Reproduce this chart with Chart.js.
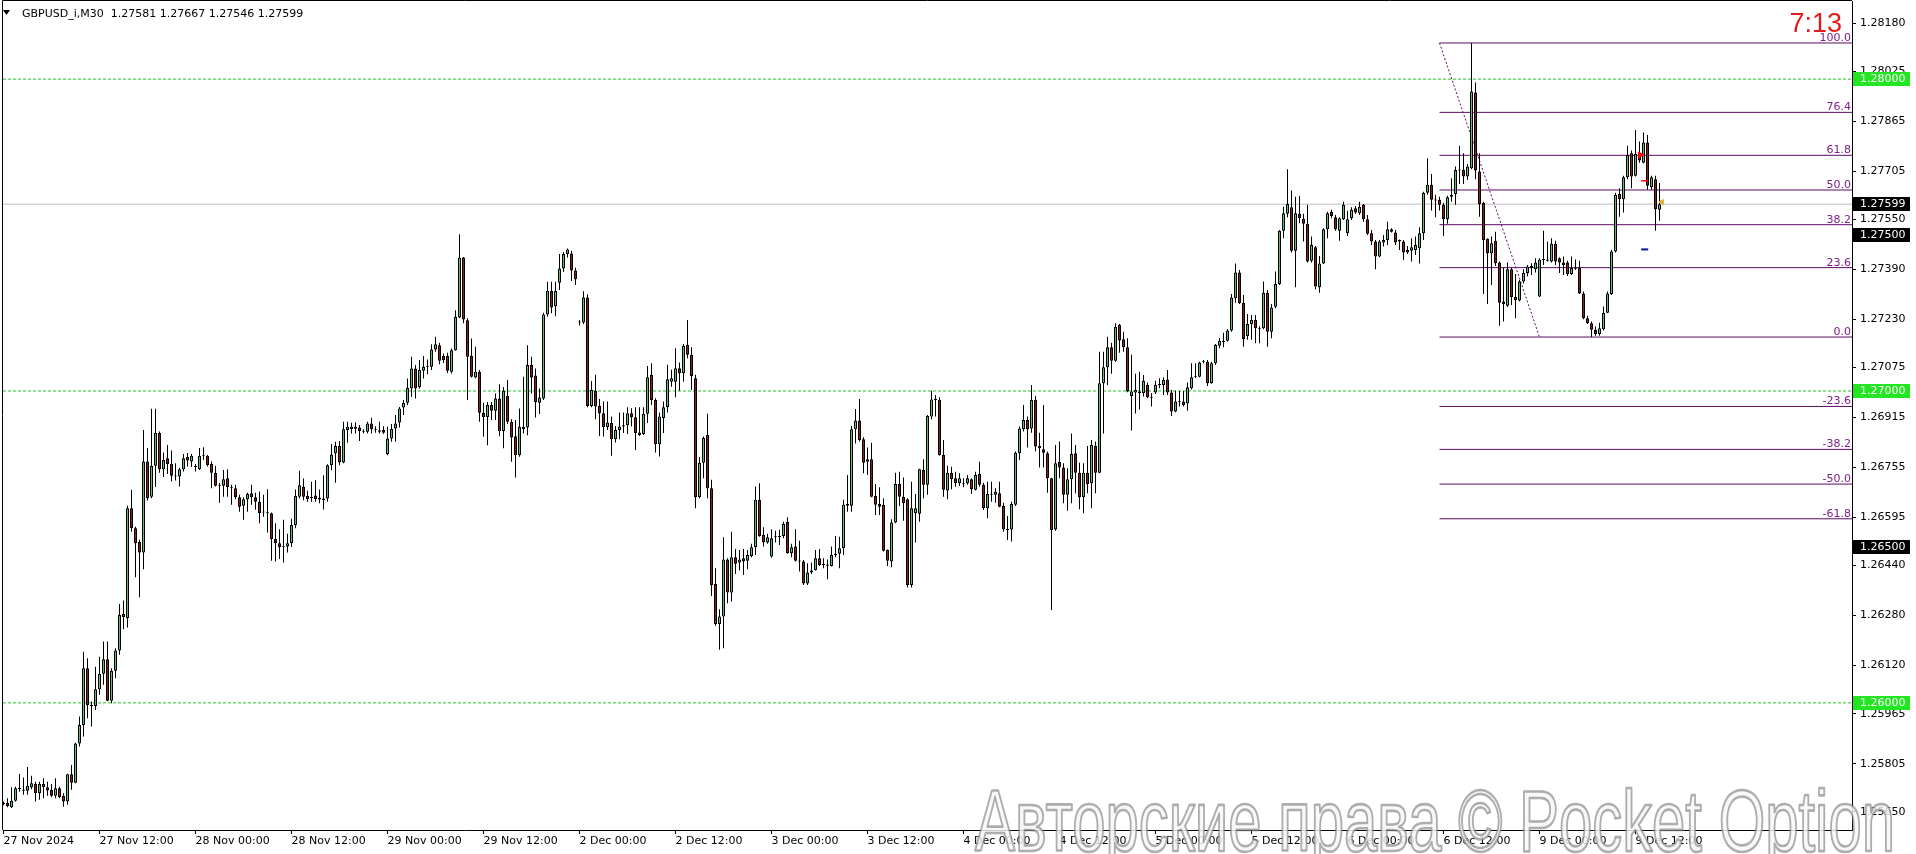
<!DOCTYPE html>
<html><head><meta charset="utf-8">
<style>html,body{margin:0;padding:0;background:#fff;overflow:hidden}canvas{display:block}</style>
<script src="https://cdn.jsdelivr.net/npm/chart.js@4.4.1/dist/chart.umd.min.js"></script>
</head><body>
<canvas id="c" width="1916" height="854"></canvas>
<script>
// ---------- DATA (GBPUSD_i, M30) : [open, high, low, close] ----------
const symbolName = 'GBPUSD_i,M30';
const nov27 = [
[1.25676,1.25684,1.25672,1.25679],[1.25680,1.25694,1.25665,1.25669],[1.25665,1.25729,1.25663,1.25686],[1.25686,1.25731,1.25684,1.25726],
[1.25726,1.25772,1.25715,1.25724],[1.25722,1.25761,1.25705,1.25718],[1.25718,1.25794,1.25705,1.25734],[1.25729,1.25766,1.25723,1.25742],
[1.25740,1.25747,1.25684,1.25710],[1.25710,1.25747,1.25689,1.25740],[1.25740,1.25758,1.25694,1.25729],[1.25729,1.25747,1.25702,1.25719],
[1.25721,1.25740,1.25697,1.25702],[1.25702,1.25758,1.25694,1.25726],[1.25726,1.25731,1.25694,1.25697],[1.25702,1.25710,1.25667,1.25684],
[1.25684,1.25773,1.25673,1.25771],[1.25771,1.25801,1.25721,1.25744],[1.25744,1.25872,1.25742,1.25870],[1.25870,1.25956,1.25860,1.25929],
[1.25929,1.26164,1.25892,1.26111],[1.26111,1.26143,1.25951,1.25993],[1.25993,1.26004,1.25924,1.25990],[1.25990,1.26116,1.25977,1.26044],
[1.26044,1.26148,1.26026,1.26093],[1.26093,1.26197,1.26058,1.26140],[1.26140,1.26197,1.26005,1.26007],[1.26007,1.26111,1.25999,1.26103],
[1.26103,1.26175,1.26079,1.26168],[1.26168,1.26317,1.26154,1.26282],[1.26285,1.26328,1.26236,1.26275],[1.26272,1.26632,1.26242,1.26624],
[1.26624,1.26683,1.26549,1.26560],[1.26560,1.26565,1.26403,1.26512],[1.26516,1.26523,1.26339,1.26482],[1.26482,1.26875,1.26428,1.26774],
[1.26774,1.26817,1.26649,1.26656],[1.26661,1.26943,1.26656,1.26760],[1.26760,1.26943,1.26692,1.26865],[1.26865,1.26870,1.26738,1.26749],
[1.26749,1.26803,1.26724,1.26779],[1.26784,1.26827,1.26734,1.26766],[1.26766,1.26809,1.26710,1.26728],[1.26728,1.26768,1.26713,1.26726],
[1.26726,1.26754,1.26694,1.26749],[1.26749,1.26798,1.26742,1.26784],[1.26788,1.26801,1.26758,1.26777],[1.26774,1.26798,1.26756,1.26792]
];
const nov28 = [
[1.26758,1.26766,1.26742,1.26756],[1.26749,1.26817,1.26747,1.26792],[1.26792,1.26820,1.26779,1.26794],[1.26792,1.26795,1.26758,1.26763],
[1.26766,1.26774,1.26688,1.26738],[1.26738,1.26760,1.26694,1.26696],[1.26699,1.26706,1.26642,1.26696],[1.26696,1.26747,1.26661,1.26717],
[1.26720,1.26749,1.26661,1.26692],[1.26692,1.26699,1.26635,1.26690],[1.26688,1.26699,1.26653,1.26659],[1.26659,1.26667,1.26613,1.26629],
[1.26632,1.26659,1.26587,1.26653],[1.26653,1.26674,1.26613,1.26670],[1.26672,1.26699,1.26635,1.26659],[1.26659,1.26674,1.26619,1.26645],
[1.26645,1.26678,1.26576,1.26608],[1.26610,1.26667,1.26597,1.26611],[1.26610,1.26685,1.26546,1.26608],[1.26608,1.26610,1.26456,1.26525],
[1.26525,1.26576,1.26453,1.26512],[1.26512,1.26557,1.26461,1.26499],[1.26499,1.26587,1.26450,1.26500],[1.26501,1.26542,1.26482,1.26512],
[1.26512,1.26590,1.26500,1.26570],[1.26570,1.26684,1.26560,1.26663],[1.26661,1.26744,1.26655,1.26698],[1.26693,1.26719,1.26650,1.26661],
[1.26663,1.26680,1.26645,1.26654],[1.26656,1.26709,1.26645,1.26660],[1.26665,1.26714,1.26645,1.26654],[1.26652,1.26684,1.26640,1.26658],
[1.26655,1.26730,1.26620,1.26650],[1.26655,1.26765,1.26645,1.26762],[1.26762,1.26830,1.26746,1.26796],[1.26800,1.26837,1.26706,1.26824],
[1.26824,1.26840,1.26762,1.26771],[1.26771,1.26901,1.26768,1.26877],[1.26875,1.26901,1.26834,1.26885],[1.26878,1.26898,1.26864,1.26885],
[1.26879,1.26900,1.26864,1.26885],[1.26883,1.26891,1.26840,1.26872],[1.26872,1.26877,1.26864,1.26869],[1.26869,1.26901,1.26864,1.26896],
[1.26896,1.26914,1.26864,1.26877],[1.26874,1.26887,1.26866,1.26877],[1.26869,1.26901,1.26864,1.26874],[1.26875,1.26887,1.26862,1.26866]
];
const nov29 = [
[1.26798,1.26885,1.26794,1.26848],[1.26848,1.26894,1.26837,1.26878],[1.26880,1.26923,1.26837,1.26896],[1.26899,1.26949,1.26883,1.26944],
[1.26947,1.26971,1.26923,1.26962],[1.26962,1.27040,1.26955,1.27010],[1.27008,1.27110,1.26981,1.27072],[1.27072,1.27083,1.26976,1.27008],
[1.27013,1.27099,1.27008,1.27067],[1.27065,1.27112,1.27040,1.27078],[1.27078,1.27101,1.27054,1.27080],[1.27078,1.27150,1.27067,1.27133],
[1.27133,1.27174,1.27126,1.27150],[1.27147,1.27155,1.27086,1.27097],[1.27112,1.27120,1.27090,1.27099],[1.27112,1.27123,1.27058,1.27065],
[1.27062,1.27136,1.27056,1.27131],[1.27131,1.27259,1.27129,1.27238],[1.27236,1.27503,1.27233,1.27428],[1.27428,1.27430,1.27217,1.27229],
[1.27227,1.27233,1.26971,1.27110],[1.27112,1.27168,1.27043,1.27046],[1.27043,1.27142,1.27040,1.27062],[1.27062,1.27067,1.26901,1.26930],
[1.26930,1.26962,1.26853,1.26917],[1.26917,1.26965,1.26826,1.26955],[1.26955,1.26965,1.26907,1.26937],[1.26937,1.26992,1.26907,1.26976],
[1.26976,1.27022,1.26855,1.26872],[1.26872,1.27013,1.26816,1.27001],[1.26984,1.27035,1.26894,1.26901],[1.26901,1.26909,1.26773,1.26851],
[1.26855,1.26907,1.26723,1.26794],[1.26794,1.26944,1.26789,1.26885],[1.26877,1.27046,1.26864,1.26885],[1.26883,1.27147,1.26858,1.27083],
[1.27083,1.27110,1.26992,1.27043],[1.27050,1.27072,1.26915,1.26965],[1.26962,1.27008,1.26926,1.26979],[1.26976,1.27251,1.26971,1.27245],
[1.27245,1.27350,1.27238,1.27321],[1.27321,1.27350,1.27249,1.27268],[1.27272,1.27350,1.27240,1.27321],[1.27347,1.27439,1.27324,1.27393],
[1.27393,1.27446,1.27382,1.27439],[1.27439,1.27457,1.27428,1.27454],[1.27441,1.27450,1.27353,1.27386],[1.27386,1.27395,1.27340,1.27358]
];
const dec02 = [
[1.27223,1.27228,1.27210,1.27220],[1.27220,1.27320,1.27215,1.27300],[1.27300,1.27310,1.26948,1.26952],[1.26952,1.27032,1.26948,1.27003],
[1.27001,1.27052,1.26909,1.26950],[1.26952,1.26974,1.26856,1.26929],[1.26929,1.26966,1.26854,1.26884],[1.26884,1.26966,1.26875,1.26899],
[1.26897,1.26918,1.26792,1.26845],[1.26845,1.26888,1.26835,1.26875],[1.26875,1.26931,1.26845,1.26886],[1.26886,1.26931,1.26865,1.26890],
[1.26890,1.26948,1.26862,1.26929],[1.26929,1.26945,1.26886,1.26916],[1.26916,1.26948,1.26811,1.26865],[1.26867,1.26948,1.26856,1.26859],
[1.26862,1.26948,1.26859,1.26927],[1.26927,1.27080,1.26897,1.27044],[1.27052,1.27089,1.26955,1.26971],[1.26971,1.26977,1.26803,1.26829],
[1.26829,1.26931,1.26790,1.26918],[1.26913,1.26966,1.26865,1.26948],[1.26948,1.27084,1.26931,1.27038],[1.27030,1.27068,1.27014,1.27041],
[1.27030,1.27137,1.26980,1.27073],[1.27073,1.27091,1.27001,1.27057],[1.27057,1.27151,1.27030,1.27145],[1.27148,1.27228,1.27105,1.27116],
[1.27116,1.27140,1.27003,1.27048],[1.27041,1.27052,1.26624,1.26659],[1.26659,1.26788,1.26656,1.26770],[1.26770,1.26854,1.26720,1.26849],
[1.26859,1.26927,1.26656,1.26688],[1.26688,1.26715,1.26343,1.26378],[1.26381,1.26432,1.26247,1.26253],[1.26253,1.26300,1.26170,1.26277],
[1.26277,1.26531,1.26175,1.26460],[1.26460,1.26464,1.26319,1.26354],[1.26354,1.26549,1.26325,1.26467],[1.26467,1.26493,1.26413,1.26446],
[1.26450,1.26490,1.26424,1.26460],[1.26464,1.26493,1.26410,1.26453],[1.26456,1.26490,1.26428,1.26474],[1.26471,1.26510,1.26467,1.26499],
[1.26499,1.26694,1.26474,1.26651],[1.26651,1.26704,1.26533,1.26535],[1.26539,1.26563,1.26501,1.26514],[1.26514,1.26542,1.26510,1.26531]
];
const dec03 = [
[1.26469,1.26557,1.26465,1.26528],[1.26531,1.26552,1.26514,1.26533],[1.26531,1.26555,1.26506,1.26535],[1.26535,1.26581,1.26528,1.26574],
[1.26581,1.26595,1.26478,1.26480],[1.26480,1.26510,1.26467,1.26499],[1.26501,1.26557,1.26453,1.26456],[1.26456,1.26520,1.26421,1.26453],
[1.26453,1.26458,1.26378,1.26383],[1.26383,1.26448,1.26378,1.26418],[1.26418,1.26450,1.26413,1.26424],[1.26426,1.26490,1.26424,1.26464],
[1.26464,1.26493,1.26439,1.26442],[1.26442,1.26464,1.26432,1.26446],[1.26440,1.26460,1.26396,1.26444],[1.26439,1.26501,1.26437,1.26474],
[1.26473,1.26535,1.26467,1.26478],[1.26478,1.26533,1.26432,1.26496],[1.26496,1.26651,1.26474,1.26635],[1.26638,1.26731,1.26613,1.26632],
[1.26632,1.26888,1.26613,1.26877],[1.26877,1.26942,1.26832,1.26905],[1.26905,1.26974,1.26838,1.26843],[1.26845,1.26852,1.26736,1.26770],
[1.26773,1.26819,1.26731,1.26781],[1.26781,1.26834,1.26659,1.26661],[1.26663,1.26702,1.26602,1.26635],[1.26638,1.26691,1.26602,1.26629],
[1.26635,1.26656,1.26485,1.26488],[1.26490,1.26492,1.26439,1.26456],[1.26453,1.26589,1.26435,1.26578],[1.26578,1.26738,1.26576,1.26702],
[1.26702,1.26741,1.26631,1.26661],[1.26661,1.26723,1.26584,1.26640],[1.26653,1.26656,1.26370,1.26378],[1.26378,1.26709,1.26370,1.26624],
[1.26608,1.26670,1.26514,1.26624],[1.26606,1.26751,1.26581,1.26749],[1.26747,1.26781,1.26656,1.26699],[1.26699,1.26923,1.26667,1.26920],
[1.26918,1.27001,1.26909,1.26973],[1.26971,1.26987,1.26918,1.26973],[1.26971,1.26980,1.26792,1.26795],[1.26795,1.26843,1.26661,1.26683],
[1.26681,1.26760,1.26653,1.26738],[1.26738,1.26757,1.26685,1.26717],[1.26720,1.26741,1.26693,1.26704],[1.26704,1.26736,1.26695,1.26720]
];
const dec04 = [
[1.26704,1.26720,1.26691,1.26701],[1.26704,1.26731,1.26699,1.26720],[1.26717,1.26720,1.26670,1.26685],[1.26683,1.26741,1.26681,1.26731],
[1.26734,1.26773,1.26693,1.26699],[1.26699,1.26706,1.26618,1.26624],[1.26624,1.26709,1.26592,1.26670],[1.26670,1.26709,1.26645,1.26667],
[1.26667,1.26688,1.26642,1.26677],[1.26672,1.26709,1.26627,1.26629],[1.26631,1.26642,1.26549,1.26556],[1.26556,1.26599,1.26522,1.26554],
[1.26556,1.26645,1.26517,1.26638],[1.26635,1.26806,1.26631,1.26802],[1.26800,1.26886,1.26779,1.26880],[1.26877,1.26955,1.26870,1.26907],
[1.26907,1.26918,1.26819,1.26877],[1.26880,1.27019,1.26866,1.26971],[1.26971,1.26984,1.26806,1.26822],[1.26824,1.26866,1.26755,1.26816],
[1.26813,1.26955,1.26755,1.26802],[1.26800,1.26806,1.26674,1.26720],[1.26720,1.26722,1.26298,1.26554],[1.26556,1.26827,1.26552,1.26768],
[1.26773,1.26838,1.26720,1.26755],[1.26755,1.26768,1.26640,1.26667],[1.26667,1.26752,1.26616,1.26717],[1.26717,1.26864,1.26640,1.26798],
[1.26800,1.26827,1.26672,1.26738],[1.26738,1.26770,1.26621,1.26659],[1.26659,1.26768,1.26608,1.26738],[1.26738,1.26824,1.26672,1.26702],
[1.26704,1.26843,1.26624,1.26827],[1.26824,1.26838,1.26672,1.26738],[1.26738,1.27126,1.26736,1.27025],[1.27025,1.27126,1.26864,1.27076],
[1.27076,1.27174,1.27019,1.27140],[1.27140,1.27155,1.27055,1.27097],[1.27097,1.27217,1.27094,1.27206],[1.27212,1.27215,1.27123,1.27162],
[1.27166,1.27190,1.27126,1.27140],[1.27140,1.27169,1.26996,1.26998],[1.26984,1.27116,1.26873,1.26998],[1.26995,1.27055,1.26928,1.27003],
[1.26993,1.27062,1.26941,1.26998],[1.26993,1.27051,1.26982,1.27033],[1.27019,1.27027,1.26977,1.26980],[1.26980,1.26993,1.26950,1.26978]
];
const dec05 = [
[1.26995,1.27033,1.26990,1.27019],[1.27019,1.27041,1.27009,1.27021],[1.27019,1.27044,1.26987,1.27035],[1.27037,1.27067,1.26987,1.26995],
[1.26995,1.27003,1.26920,1.26934],[1.26934,1.27001,1.26932,1.26966],[1.26966,1.27000,1.26950,1.26964],[1.26966,1.27000,1.26950,1.26955],
[1.26960,1.27027,1.26937,1.27012],[1.27009,1.27089,1.27005,1.27044],[1.27044,1.27089,1.27042,1.27046],[1.27046,1.27094,1.27044,1.27091],
[1.27094,1.27099,1.27089,1.27092],[1.27094,1.27099,1.27016,1.27025],[1.27025,1.27094,1.27023,1.27089],[1.27089,1.27151,1.27083,1.27148],
[1.27145,1.27169,1.27137,1.27161],[1.27157,1.27187,1.27140,1.27159],[1.27161,1.27198,1.27158,1.27194],[1.27194,1.27311,1.27190,1.27300],
[1.27297,1.27409,1.27283,1.27380],[1.27380,1.27388,1.27279,1.27281],[1.27283,1.27308,1.27142,1.27166],[1.27176,1.27247,1.27164,1.27215],
[1.27215,1.27244,1.27164,1.27228],[1.27228,1.27244,1.27153,1.27201],[1.27201,1.27208,1.27153,1.27198],[1.27201,1.27351,1.27198,1.27315],
[1.27315,1.27324,1.27142,1.27190],[1.27190,1.27279,1.27169,1.27268],[1.27270,1.27383,1.27265,1.27343],[1.27343,1.27516,1.27340,1.27514],
[1.27514,1.27591,1.27490,1.27570],[1.27568,1.27711,1.27557,1.27600],[1.27589,1.27643,1.27444,1.27450],[1.27450,1.27623,1.27333,1.27570],
[1.27568,1.27625,1.27538,1.27554],[1.27552,1.27568,1.27479,1.27536],[1.27536,1.27597,1.27412,1.27415],[1.27418,1.27495,1.27412,1.27468],
[1.27461,1.27465,1.27326,1.27335],[1.27333,1.27433,1.27315,1.27409],[1.27409,1.27522,1.27407,1.27519],[1.27519,1.27575,1.27490,1.27570],
[1.27575,1.27581,1.27554,1.27561],[1.27557,1.27564,1.27514,1.27519],[1.27514,1.27557,1.27482,1.27554],[1.27551,1.27607,1.27548,1.27597]
];
const dec06 = [
[1.27506,1.27578,1.27497,1.27551],[1.27554,1.27589,1.27548,1.27581],[1.27586,1.27593,1.27568,1.27572],[1.27570,1.27607,1.27564,1.27591],
[1.27597,1.27600,1.27543,1.27551],[1.27551,1.27564,1.27500,1.27504],[1.27506,1.27516,1.27468,1.27479],[1.27479,1.27484,1.27390,1.27431],
[1.27431,1.27484,1.27429,1.27479],[1.27476,1.27500,1.27463,1.27484],[1.27484,1.27543,1.27468,1.27519],[1.27519,1.27522,1.27508,1.27511],
[1.27508,1.27516,1.27468,1.27476],[1.27484,1.27486,1.27452,1.27479],[1.27479,1.27484,1.27420,1.27444],[1.27452,1.27465,1.27439,1.27444],
[1.27450,1.27490,1.27415,1.27461],[1.27452,1.27495,1.27436,1.27468],[1.27458,1.27525,1.27409,1.27506],[1.27506,1.27639,1.27484,1.27636],
[1.27636,1.27746,1.27629,1.27661],[1.27661,1.27696,1.27579,1.27613],[1.27613,1.27629,1.27557,1.27611],[1.27613,1.27623,1.27579,1.27597],
[1.27597,1.27604,1.27497,1.27551],[1.27551,1.27626,1.27536,1.27621],[1.27623,1.27682,1.27607,1.27629],[1.27632,1.27720,1.27597,1.27709],
[1.27709,1.27786,1.27664,1.27707],[1.27709,1.27762,1.27664,1.27688],[1.27688,1.27728,1.27677,1.27720],[1.27714,1.28116,1.27711,1.27960],
[1.27957,1.27989,1.27679,1.27707],[1.27704,1.27762,1.27559,1.27600],[1.27604,1.27607,1.27311,1.27484],[1.27487,1.27490,1.27279,1.27442],
[1.27442,1.27495,1.27340,1.27474],[1.27482,1.27511,1.27401,1.27410],[1.27412,1.27415,1.27209,1.27283],[1.27287,1.27394,1.27223,1.27279],
[1.27273,1.27412,1.27269,1.27390],[1.27390,1.27394,1.27276,1.27301],[1.27301,1.27375,1.27233,1.27292],[1.27290,1.27356,1.27287,1.27351],
[1.27351,1.27390,1.27345,1.27378],[1.27378,1.27404,1.27367,1.27399],[1.27394,1.27410,1.27372,1.27401],[1.27390,1.27426,1.27380,1.27412]
];
const dec09 = [
[1.27303,1.27426,1.27301,1.27422],[1.27422,1.27514,1.27404,1.27420],[1.27418,1.27479,1.27415,1.27422],[1.27415,1.27490,1.27412,1.27472],
[1.27472,1.27482,1.27404,1.27415],[1.27426,1.27429,1.27378,1.27412],[1.27412,1.27431,1.27372,1.27404],[1.27412,1.27418,1.27369,1.27375],
[1.27375,1.27431,1.27372,1.27394],[1.27394,1.27422,1.27388,1.27392],[1.27394,1.27418,1.27311,1.27313],[1.27313,1.27319,1.27230,1.27233],
[1.27233,1.27241,1.27215,1.27217],[1.27217,1.27223,1.27173,1.27196],[1.27196,1.27207,1.27177,1.27183],[1.27183,1.27219,1.27177,1.27201],
[1.27198,1.27271,1.27194,1.27251],[1.27251,1.27319,1.27249,1.27313],[1.27311,1.27452,1.27308,1.27447],[1.27447,1.27636,1.27444,1.27629],
[1.27632,1.27650,1.27559,1.27615],[1.27615,1.27690,1.27572,1.27685],[1.27685,1.27786,1.27679,1.27757],[1.27762,1.27771,1.27650,1.27688],
[1.27690,1.27837,1.27688,1.27760],[1.27762,1.27800,1.27732,1.27739],[1.27732,1.27829,1.27730,1.27797],[1.27797,1.27821,1.27645,1.27658],
[1.27653,1.27690,1.27645,1.27685],[1.27679,1.27690,1.27514,1.27583],[1.27581,1.27667,1.27546,1.27599]
];
const timeLabels = ['27 Nov 2024','27 Nov 12:00','28 Nov 00:00','28 Nov 12:00','29 Nov 00:00','29 Nov 12:00',
  '2 Dec 00:00','2 Dec 12:00','3 Dec 00:00','3 Dec 12:00','4 Dec 00:00','4 Dec 12:00','5 Dec 00:00','5 Dec 12:00',
  '6 Dec 00:00','6 Dec 12:00','9 Dec 00:00','9 Dec 12:00'];
const barsPerLabel = 24;
const yTickValues = [1.28180,1.28025,1.27865,1.27705,1.27550,1.27390,1.27230,1.27075,1.26915,1.26755,1.26595,1.26440,1.26280,1.26120,1.25965,1.25805,1.25650];
const roundLevels = [1.28000, 1.27000, 1.26000];
const blackLevels = [1.27500, 1.26500];
const fibLevels = [100.0, 76.4, 61.8, 50.0, 38.2, 23.6, 0.0, -23.6, -38.2, -50.0, -61.8];
const fibHigh = 1.28116, fibLow = 1.27173;
const fibStartBar = 359, fibEndBar = 384;
const countdownText = '7:13';
const watermarkText = 'Авторские права © Pocket Option';

// ---------- BUILD ----------
const candles = [].concat(nov27, nov28, nov29, dec02, dec03, dec04, dec05, dec06, dec09);
const N = candles.length;
const last = candles[N - 1];
const lastPrice = last[3];
const X_MIN = -0.125, X_MAX = 462.125;
const Y_MIN = 1.2559228, Y_MAX = 1.2825055;
const BULL = '#55c07f', BEAR = '#8b1c1c', FIB = '#5c0a64', GREEN = '#22c422';
const fibPrice = p => fibLow + (fibHigh - fibLow) * p / 100;

const hline = (y, color, dash, x0) => ({
  type: 'line', data: [{x: x0 === undefined ? X_MIN : x0, y}, {x: X_MAX, y}],
  borderColor: color, borderWidth: 1, borderDash: dash || [], pointRadius: 0, order: 5, fill: false
});

Chart.defaults.font.family = '"DejaVu Sans"';
Chart.defaults.font.size = 11;
Chart.defaults.color = '#000';

const datasets = [
  {
    type: 'bar', label: 'bodies', order: 0, grouped: false,
    data: candles.map((c, i) => ({x: i, y: [c[0], c[3]]})),
    backgroundColor: candles.map(c => c[3] >= c[0] ? BULL : BEAR),
    borderColor: '#000', borderWidth: 1, borderSkipped: false,
    barThickness: 3, minBarLength: 1, inflateAmount: 0
  },
  {
    type: 'bar', label: 'wicks', order: 1, grouped: false,
    data: candles.map((c, i) => ({x: i, y: [c[2], c[1]]})),
    backgroundColor: '#000', borderWidth: 0,
    barThickness: 1, minBarLength: 1, inflateAmount: 0
  },
  hline(lastPrice, '#bdbdbd'),
  ...roundLevels.map(v => hline(v, GREEN, [3, 2])),
  ...fibLevels.map(p => hline(fibPrice(p), FIB, [], fibStartBar)),
  {
    type: 'line', data: [{x: fibStartBar, y: fibHigh}, {x: fibEndBar, y: fibLow}],
    borderColor: '#5c0a64', borderWidth: 1, borderDash: [2, 2], pointRadius: 0, order: 4
  },
  {
    type: 'scatter', order: -1,
    data: [{x: 409.2, y: 1.27757}, {x: 410.3, y: 1.27674}, {x: 410.3, y: 1.27454}, {x: 414.6, y: 1.27606}],
    pointStyle: ['triangle', 'line', 'line', 'triangle'],
    rotation: [90, 0, 0, -90],
    pointRadius: [3.5, 3.5, 3.5, 3],
    borderWidth: [1, 1.5, 2, 1],
    backgroundColor: ['#ff0000', '#ff0000', '#101090', '#e0b030'],
    borderColor: ['#ff0000', '#ff0000', '#101090', '#e0b030']
  }
];

const overlay = {
  id: 'overlay',
  afterDatasetsDraw(chart) {
    const {ctx, chartArea, scales: {y}} = chart;
    ctx.save();
    ctx.font = '11px "DejaVu Sans"';
    ctx.fillStyle = '#7d1f86';
    ctx.textAlign = 'right';
    ctx.textBaseline = 'alphabetic';
    fibLevels.forEach(p => {
      const yy = y.getPixelForValue(fibPrice(p));
      ctx.fillText(p.toFixed(1), chartArea.right - 1, yy - 2);
    });
    ctx.restore();
  },
  afterDraw(chart) {
    const {ctx, chartArea, scales: {y}} = chart;
    ctx.save();
    // frame (left / top)
    ctx.strokeStyle = '#000'; ctx.lineWidth = 1;
    ctx.beginPath();
    ctx.moveTo(2.5, chartArea.bottom); ctx.lineTo(2.5, 0.5); ctx.lineTo(chartArea.right, 0.5);
    ctx.stroke();
    // axis value boxes
    ctx.font = '11px "DejaVu Sans"';
    ctx.textBaseline = 'middle'; ctx.textAlign = 'left';
    const box = (v, bg) => {
      const yy = Math.round(y.getPixelForValue(v));
      ctx.fillStyle = bg;
      ctx.fillRect(chartArea.right + 1, yy - 7, 57, 14);
      ctx.fillStyle = '#fff';
      ctx.fillText(v.toFixed(5), chartArea.right + 8, yy + 0.5);
    };
    roundLevels.forEach(v => box(v, '#22e622'));
    blackLevels.forEach(v => box(v, '#000'));
    box(lastPrice, '#000');
    // title
    ctx.fillStyle = '#000';
    ctx.beginPath(); ctx.moveTo(3, 10); ctx.lineTo(10, 10); ctx.lineTo(6.5, 15); ctx.closePath(); ctx.fill();
    ctx.textBaseline = 'alphabetic';
    ctx.fillText(symbolName + '  ' + last.map(v => v.toFixed(5)).join(' '), 22, 17);
    // countdown
    ctx.font = '27px "Liberation Sans"';
    ctx.fillStyle = '#e51b1b';
    ctx.textAlign = 'right';
    ctx.fillText(countdownText, 1842, 32);
    // watermark
    ctx.font = '88px "Liberation Sans"';
    ctx.textAlign = 'left';
    const w = ctx.measureText(watermarkText).width;
    ctx.translate(975, 851);
    ctx.scale(920 / w, 1);
    ctx.lineJoin = 'round';
    ctx.fillStyle = 'rgba(246,246,246,0.82)';
    ctx.fillText(watermarkText, 0, 0);
    ctx.lineWidth = 2.6;
    ctx.strokeStyle = 'rgba(130,130,130,0.65)';
    ctx.strokeText(watermarkText, 0, 0);
    ctx.restore();
  }
};

const noPad = s => { s.paddingTop = 0; s.paddingBottom = 0; s.paddingLeft = 0; s.paddingRight = 0; };

new Chart(document.getElementById('c'), {
  type: 'bar',
  data: {datasets},
  plugins: [overlay],
  options: {
    responsive: false, animation: false, devicePixelRatio: 1,
    layout: {padding: {left: 3, top: 1, right: 0, bottom: 0}, autoPadding: false},
    plugins: {legend: {display: false}, tooltip: {enabled: false}},
    scales: {
      x: {
        type: 'linear', min: X_MIN, max: X_MAX, offset: false,
        grid: {drawOnChartArea: false, tickLength: 4, color: '#000', offset: false},
        border: {display: true, color: '#000'},
        ticks: {autoSkip: false, maxRotation: 0, align: 'start', padding: 1, color: '#000',
          callback: v => timeLabels[Math.round(v / barsPerLabel)] || ''},
        afterBuildTicks: s => { s.ticks = timeLabels.map((t, k) => ({value: k * barsPerLabel})); },
        afterFit: s => { s.height = 24; noPad(s); }
      },
      y: {
        type: 'linear', position: 'right', min: Y_MIN, max: Y_MAX, bounds: 'data',
        grid: {drawOnChartArea: false, tickLength: 4, color: '#000'},
        border: {display: true, color: '#000'},
        ticks: {autoSkip: false, padding: 4, color: '#000', callback: v => v.toFixed(5)},
        afterBuildTicks: s => { s.ticks = yTickValues.map(v => ({value: v})); },
        afterFit: s => { s.width = 64; noPad(s); }
      }
    }
  }
});
</script>
</body></html>
